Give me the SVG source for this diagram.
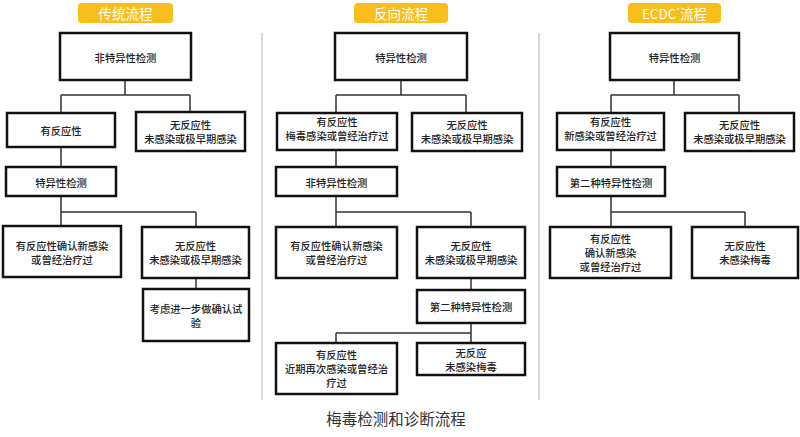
<svg xmlns="http://www.w3.org/2000/svg" width="800" height="437" viewBox="0 0 800 437">
<style>
.bx{fill:#fff;stroke:#111;stroke-width:2.5}
.t{font-family:"Noto Sans CJK SC","Noto Sans",sans-serif;font-size:10.3px;fill:#222;text-anchor:middle;dominant-baseline:central;font-weight:500}
.hd{fill:#F8BE1C}
.ht{font-family:"Noto Sans CJK SC","Noto Sans",sans-serif;font-size:13.5px;fill:#fff;text-anchor:middle;dominant-baseline:central}
.cn{fill:none;stroke:#333;stroke-width:1.5}
.sep{stroke:#ccc;stroke-width:1.5}
.cap{font-family:"Noto Sans CJK SC","Noto Sans",sans-serif;font-size:15.5px;fill:#333;text-anchor:middle;dominant-baseline:central}
</style>
<rect width="800" height="437" fill="#fff"/>
<g id="separators">
<line class="sep" x1="262" y1="33" x2="262" y2="400"/>
<line class="sep" x1="539" y1="33" x2="539" y2="400"/>
</g>
<g id="headers">
<g id="h1"><rect class="hd" x="78" y="3" width="95" height="20" rx="4"/><text class="ht" x="125.5" y="13">传统流程</text></g>
<g id="h2"><rect class="hd" x="354" y="3" width="94" height="20" rx="4"/><text class="ht" x="401" y="13">反向流程</text></g>
<g id="h3"><rect class="hd" x="628" y="3" width="93" height="20" rx="4"/><text class="ht" x="674.5" y="13">ECDC<tspan font-size="8" dy="-3">*</tspan><tspan dy="3">流程</tspan></text></g>
</g>
<g id="connectors">
<path class="cn" d="M125,80V95M61,95H190M61,95V113M190,95V112"/>
<path class="cn" d="M61,147V167"/>
<path class="cn" d="M61,196V212M61,212H196M61,212V226M196,212V227"/>
<path class="cn" d="M196,278V289"/>
<path class="cn" d="M401,80V95M336,95H466M336,95V113M466,95V113"/>
<path class="cn" d="M336,150V167"/>
<path class="cn" d="M336,196V212M336,212H471M336,212V227M471,212V227"/>
<path class="cn" d="M471,278V290"/>
<path class="cn" d="M471,323V333M336,333H471M336,333V343M471,333V343"/>
<path class="cn" d="M674,80V95M611,95H739M611,95V113M739,95V113"/>
<path class="cn" d="M611,150V167"/>
<path class="cn" d="M611,196V212M611,212H745M611,212V227M745,212V227"/>
</g>
<g id="n1"><rect class="bx" x="60" y="33" width="131" height="47"/><text class="t" x="125.5" y="57">非特异性检测</text></g>
<g id="n2"><rect class="bx" x="7" y="113" width="108" height="34"/><text class="t" x="61" y="130">有反应性</text></g>
<g id="n3"><rect class="bx" x="136" y="112" width="109" height="39"/><text class="t" x="190.5" y="124.5">无反应性</text><text class="t" x="190.5" y="138.5">未感染或极早期感染</text></g>
<g id="n4"><rect class="bx" x="6" y="167" width="110" height="29"/><text class="t" x="61" y="182">特异性检测</text></g>
<g id="n5"><rect class="bx" x="3" y="226" width="118" height="51"/><text class="t" x="62" y="245.5">有反应性确认新感染</text><text class="t" x="62" y="259.5">或曾经治疗过</text></g>
<g id="n6"><rect class="bx" x="142" y="227" width="107" height="51"/><text class="t" x="195.5" y="245.5">无反应性</text><text class="t" x="195.5" y="259.5">未感染或极早期感染</text></g>
<g id="n7"><rect class="bx" x="143" y="289" width="106" height="52"/><text class="t" x="196" y="308.5">考虑进一步做确认试</text><text class="t" x="196" y="322.5">验</text></g>

<g id="m1"><rect class="bx" x="335" y="33" width="132" height="47"/><text class="t" x="401" y="57">特异性检测</text></g>
<g id="m2"><rect class="bx" x="277" y="113" width="120" height="37"/><text class="t" x="337" y="121">有反应性</text><text class="t" x="337" y="135.5">梅毒感染或曾经治疗过</text></g>
<g id="m3"><rect class="bx" x="412" y="113" width="110" height="38"/><text class="t" x="467" y="124.5">无反应性</text><text class="t" x="467" y="138.5">未感染或极早期感染</text></g>
<g id="m4"><rect class="bx" x="276" y="167" width="121" height="29"/><text class="t" x="336.5" y="182">非特异性检测</text></g>
<g id="m5"><rect class="bx" x="276" y="227" width="121" height="51"/><text class="t" x="336.5" y="245.5">有反应性确认新感染</text><text class="t" x="336.5" y="259.5">或曾经治疗过</text></g>
<g id="m6"><rect class="bx" x="417" y="227" width="108" height="51"/><text class="t" x="471" y="245.5">无反应性</text><text class="t" x="471" y="259.5">未感染或极早期感染</text></g>
<g id="m7"><rect class="bx" x="417" y="290" width="108" height="33"/><text class="t" x="471" y="306">第二种特异性检测</text></g>
<g id="m8"><rect class="bx" x="276" y="343" width="121" height="51"/><text class="t" x="336.5" y="354.5">有反应性</text><text class="t" x="336.5" y="368.5">近期再次感染或曾经治</text><text class="t" x="336.5" y="382.5">疗过</text></g>
<g id="m9"><rect class="bx" x="417" y="343" width="108" height="32"/><text class="t" x="471" y="352">无反应</text><text class="t" x="471" y="366">未感染梅毒</text></g>

<g id="e1"><rect class="bx" x="610" y="33" width="129" height="47"/><text class="t" x="674.5" y="57">特异性检测</text></g>
<g id="e2"><rect class="bx" x="557" y="113" width="107" height="37"/><text class="t" x="610.5" y="121">有反应性</text><text class="t" x="610.5" y="135.5">新感染或曾经治疗过</text></g>
<g id="e3"><rect class="bx" x="685" y="113" width="109" height="38"/><text class="t" x="739.5" y="124.5">无反应性</text><text class="t" x="739.5" y="138.5">未感染或极早期感染</text></g>
<g id="e4"><rect class="bx" x="557" y="167" width="108" height="29"/><text class="t" x="611" y="182">第二种特异性检测</text></g>
<g id="e5"><rect class="bx" x="550" y="227" width="121" height="51"/><text class="t" x="610.5" y="238.5">有反应性</text><text class="t" x="610.5" y="252.5">确认新感染</text><text class="t" x="610.5" y="266.5">或曾经治疗过</text></g>
<g id="e6"><rect class="bx" x="692" y="227" width="106" height="51"/><text class="t" x="745" y="245.5">无反应性</text><text class="t" x="745" y="259.5">未感染梅毒</text></g>

<text class="cap" x="396" y="418">梅毒检测和诊断流程</text>
</svg>
